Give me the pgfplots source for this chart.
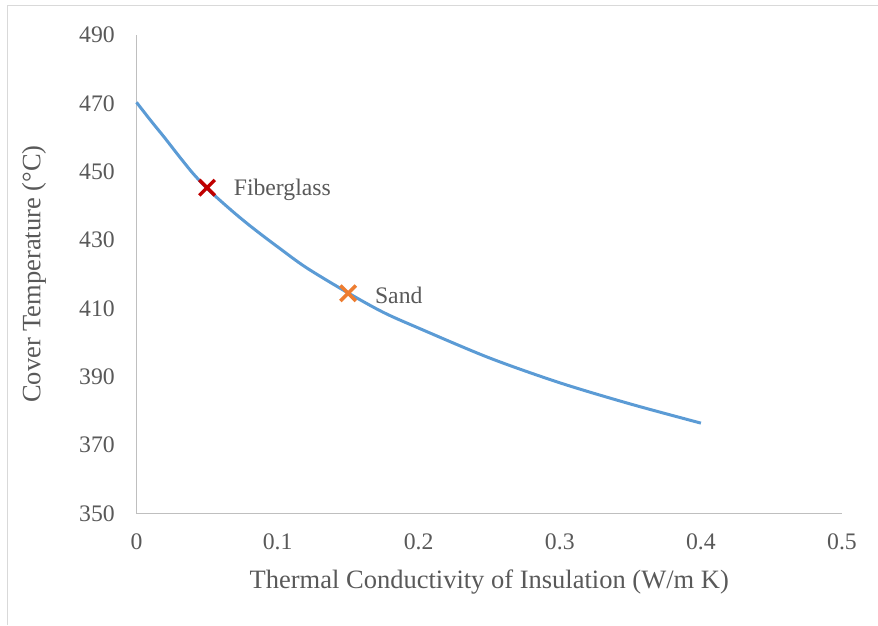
\documentclass[border=0pt]{standalone}
\usepackage{fontspec}
\setmainfont{Liberation Serif}
\usepackage{pgfplots}
\pgfplotsset{compat=1.18}
\definecolor{txtgray}{HTML}{595959}
\definecolor{axgray}{HTML}{BFBFBF}
\definecolor{framegray}{HTML}{D9D9D9}
\definecolor{lineblue}{HTML}{5B9BD5}
\definecolor{fgred}{HTML}{C00000}
\definecolor{sandorange}{HTML}{ED7D31}
\begin{document}
\begin{tikzpicture}[x=1pt,y=1pt]
\useasboundingbox (0,0) rectangle (878,625);
\draw[framegray, line width=1.5pt] (7.5,0) -- (7.5,619.5) -- (878,619.5);
\begin{axis}[
  at={(136.5pt,111.7pt)}, anchor=south west,
  scale only axis, width=705.5pt, height=478.3pt,
  xmin=0, xmax=0.5, ymin=350, ymax=490,
  xtick={0,0.1,0.2,0.3,0.4,0.5},
  xticklabels={0,0.1,0.2,0.3,0.4,0.5},
  ytick={350,370,390,410,430,450,470,490},
  axis x line=bottom, axis y line=left,
  axis line style={axgray, line width=1.5pt, -},
  major tick length=0pt,
  /pgf/number format/assume math mode=true,
  ticklabel style={font=\fontsize{23.7}{28}\selectfont, text=txtgray, inner sep=0pt},
  yticklabel style={anchor=east, xshift=-21.5pt},
  xticklabel style={anchor=north, yshift=-20.7pt},
  xlabel={Thermal Conductivity of Insulation (W/m K)},
  ylabel={Cover Temperature (°C)},
  label style={font=\fontsize{26.5}{30}\selectfont, text=txtgray, inner sep=0pt},
  xlabel style={at={(axis description cs:0.5,-0.1562)}, anchor=base},
  ylabel style={at={(axis description cs:-0.1361,0.5)}, anchor=base, rotate=0},
  clip=false,
]
\addplot[lineblue, line width=3pt, smooth, no markers] coordinates {
  (0,470.3) (0.01,465.0) (0.02,459.9) (0.03,454.6) (0.04,449.5) (0.05,445.1)
  (0.06,441.3) (0.07,437.7) (0.08,434.3) (0.09,431.1) (0.10,428.0)
  (0.12,422.0) (0.15,414.5) (0.175,408.8) (0.20,404.2) (0.25,395.5)
  (0.30,388.2) (0.35,382.0) (0.40,376.4)
};
\addplot[only marks, mark=x, mark size=11pt, fgred, mark options={line width=3.5pt}]
  coordinates {(0.05,445.3)} node[anchor=base west, xshift=26.6pt, yshift=-8pt, text=txtgray, font=\fontsize{23.7}{28}\selectfont, inner sep=0pt] {Fiberglass};
\addplot[only marks, mark=x, mark size=11pt, sandorange, mark options={line width=3.5pt}]
  coordinates {(0.15,414.4)} node[anchor=base west, xshift=26.7pt, yshift=-10pt, text=txtgray, font=\fontsize{23.7}{28}\selectfont, inner sep=0pt] {Sand};
\end{axis}
\end{tikzpicture}
\end{document}
